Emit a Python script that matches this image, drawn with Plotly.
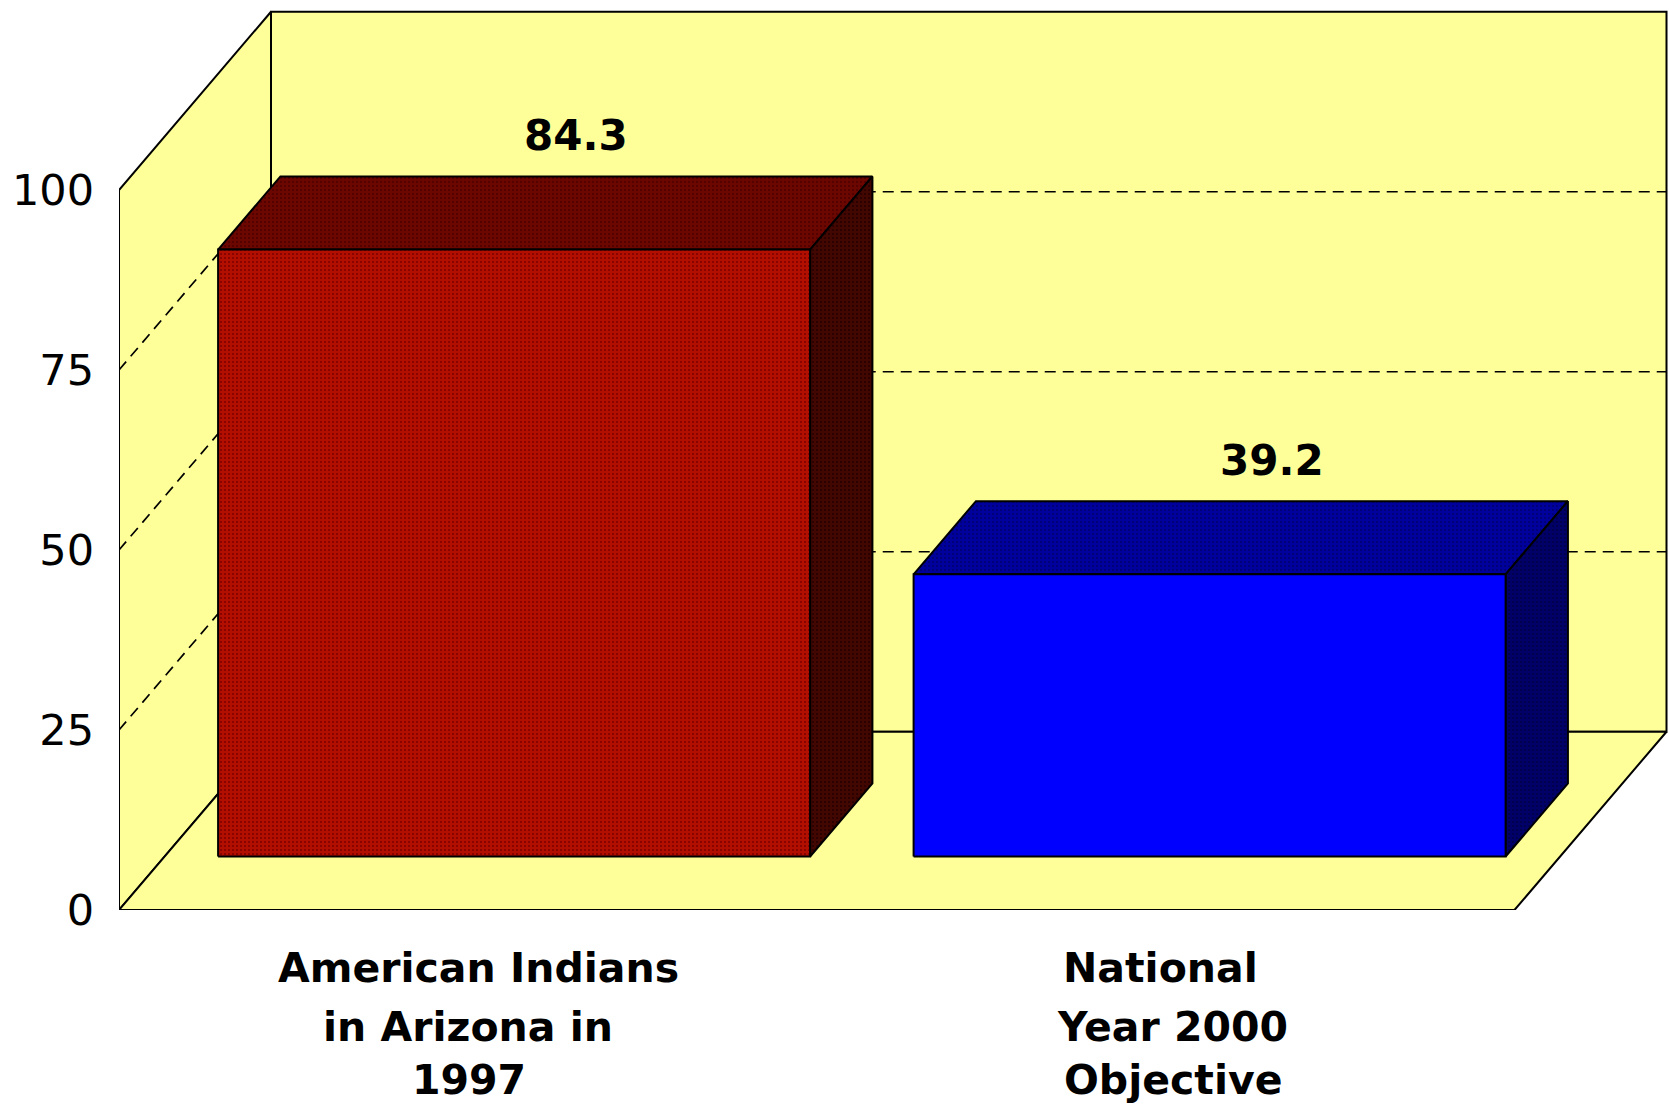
import plotly.graph_objects as go

# ---- data ----
categories = [["American Indians", "in Arizona in", "1997"],
              ["National", "Year 2000", "Objective"]]
values = [84.3, 39.2]
value_labels = ["84.3", "39.2"]
tick_values = [0, 25, 50, 75, 100]
grid_values = [25, 50, 75]

# ---- oblique projection: x in px from axis, v in axis units, d = depth 0..1 ----
DEPTH_X = 152.0
DEPTH_V = 24.76
WALL_W = 1395.5
BAR_LEFT = [53.5, 749.0]
BAR_W = 592.0
D0, D1 = 0.3, 0.71
INK = "#000000"
YELLOW = "#ffff99"


def P(x, v, d):
    return x + d * DEPTH_X, v + d * DEPTH_V


fig = go.Figure()


def poly(pts, fill, dot=None, width=2.0):
    xy = [P(*p) for p in pts] + [P(*pts[0])]
    pattern = None
    if dot:
        pattern = dict(shape=".", size=4, solidity=0.2, fgcolor=dot,
                       bgcolor=fill, fillmode="replace")
    fig.add_trace(go.Scatter(
        x=[a for a, _ in xy], y=[b for _, b in xy], mode="lines", fill="toself",
        fillcolor=fill, fillpattern=pattern,
        line=dict(color=INK, width=width), hoverinfo="skip", showlegend=False))


def dash(pts):
    xy = [P(*p) for p in pts]
    fig.add_trace(go.Scatter(
        x=[a for a, _ in xy], y=[b for _, b in xy], mode="lines",
        line=dict(color=INK, width=1.7, dash="11px,7px"),
        hoverinfo="skip", showlegend=False))


# walls and floor
poly([(0, 0, 0), (0, 100, 0), (0, 100, 1), (0, 0, 1)], YELLOW)
poly([(0, 0, 1), (0, 100, 1), (WALL_W, 100, 1), (WALL_W, 0, 1)], YELLOW)
poly([(0, 0, 0), (0, 0, 1), (WALL_W, 0, 1), (WALL_W, 0, 0)], YELLOW)
for g in grid_values:
    dash([(0, g, 0), (0, g, 1), (WALL_W, g, 1)])

# bars
styles = [
    dict(front="#b30f00", front_dot="#7a0000", top="#6c0700", top_dot="#4c0000",
         side="#420700", side_dot="#240000"),
    dict(front="#0000ff", front_dot=None, top="#00009c", top_dot="#00006c",
         side="#000068", side_dot="#000044"),
]
for left, val, st in zip(BAR_LEFT, values, styles):
    right = left + BAR_W
    poly([(left, val, D0), (left, val, D1), (right, val, D1), (right, val, D0)], st["top"], st["top_dot"])
    poly([(right, 0, D0), (right, val, D0), (right, val, D1), (right, 0, D1)], st["side"], st["side_dot"])
    poly([(left, 0, D0), (left, val, D0), (right, val, D0), (right, 0, D0)], st["front"], st["front_dot"])

# value labels above bars
for left, val, txt in zip(BAR_LEFT, values, value_labels):
    x, y = P(left + BAR_W / 2, val, D1)
    fig.add_annotation(x=x, y=y, text=txt, showarrow=False, yshift=41,
                       font=dict(family="DejaVu Sans", size=42, color="#000", weight="bold"))

# category labels, line by line
label_x = [[359, 349, 350], [1041, 1053, 1054]]
label_shift = [-58, -117, -170]
for lines, xs in zip(categories, label_x):
    for line, lx, sh in zip(lines, xs, label_shift):
        fig.add_annotation(x=lx, y=0, text=line, showarrow=False, yshift=sh,
                           font=dict(family="DejaVu Sans", size=41, color="#000", weight="bold"))

fig.update_layout(
    width=1669, height=1104, margin=dict(l=119, r=0, t=0, b=194),
    paper_bgcolor="#ffffff", plot_bgcolor="#ffffff",
    xaxis=dict(range=[0, 1550], visible=False, fixedrange=True),
    yaxis=dict(range=[0, 910 / 7.2], tickvals=tick_values,
               ticktext=[str(t) for t in tick_values],
               showgrid=False, zeroline=False, showline=False, ticks="",
               ticklabelstandoff=24,
               tickfont=dict(family="DejaVu Sans", size=43, color="#000"),
               fixedrange=True),
)
fig.write_html("out.html", config={"displayModeBar": False},
               post_script="document.body.style.margin='0';")
